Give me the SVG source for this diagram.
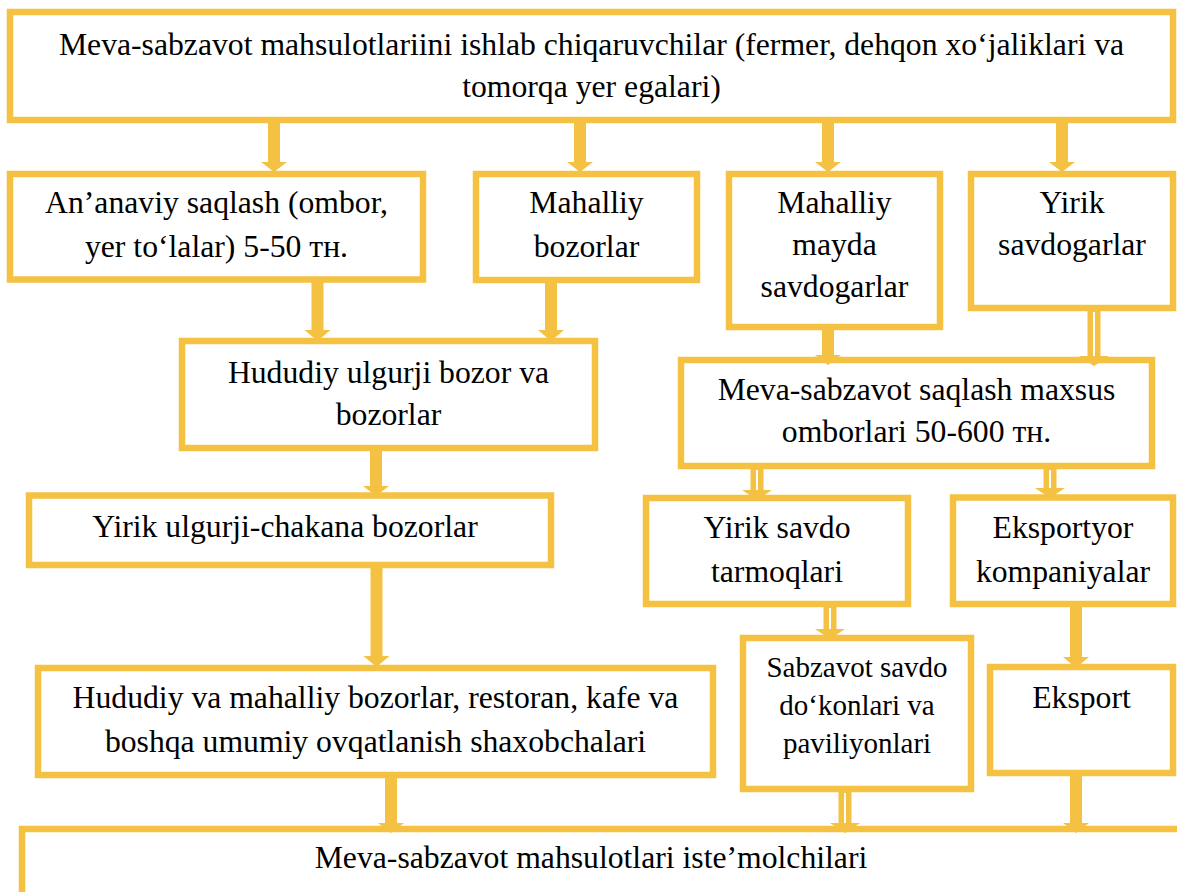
<svg xmlns="http://www.w3.org/2000/svg" width="1177" height="892" viewBox="0 0 1177 892">
<style>
.box{fill:#ffffff;stroke:#F5C142;stroke-width:6.5}
.t{font-family:'Liberation Serif','DejaVu Serif',serif;font-size:31.7px;fill:#000000;text-anchor:middle}
.ts{font-family:'Liberation Serif','DejaVu Serif',serif;font-size:29px;fill:#000000;text-anchor:middle}
.arr{fill:#F5C142}
.stripe{stroke:#ffffff;stroke-width:2;fill:none}
</style>
<rect width="1177" height="892" fill="#ffffff"/>
<g id="n-top"><rect class="box" x="10" y="12" width="1163" height="108"/>
<text class="t" x="591.5" y="55">Meva-sabzavot mahsulotlariini ishlab chiqaruvchilar (fermer, dehqon xo‘jaliklari va</text>
<text class="t" x="591.5" y="97">tomorqa yer egalari)</text></g>
<g id="n-ananaviy"><rect class="box" x="10" y="174" width="413" height="105.5"/>
<text class="t" x="216.5" y="213">An’anaviy saqlash (ombor,</text>
<text class="t" x="216.5" y="257">yer to‘lalar) 5-50 тн.</text></g>
<g id="n-mahalliy-bozor"><rect class="box" x="476" y="174" width="221" height="106"/>
<text class="t" x="586.5" y="213">Mahalliy</text>
<text class="t" x="586.5" y="257">bozorlar</text></g>
<g id="n-mayda"><rect class="box" x="729" y="174" width="211" height="153"/>
<text class="t" x="834.5" y="213">Mahalliy</text>
<text class="t" x="834.5" y="255">mayda</text>
<text class="t" x="834.5" y="297">savdogarlar</text></g>
<g id="n-yirik-savdogar"><rect class="box" x="971" y="174" width="202" height="134"/>
<text class="t" x="1072" y="213">Yirik</text>
<text class="t" x="1072" y="255">savdogarlar</text></g>
<g id="n-hududiy-ulgurji"><rect class="box" x="182" y="341" width="413" height="107"/>
<text class="t" x="388.5" y="383">Hududiy ulgurji bozor va</text>
<text class="t" x="388.5" y="425">bozorlar</text></g>
<g id="n-omborlar"><rect class="box" x="681" y="360" width="471" height="106"/>
<text class="t" x="916.5" y="400">Meva-sabzavot saqlash maxsus</text>
<text class="t" x="916.5" y="442">omborlari 50-600 тн.</text></g>
<g id="n-yirik-ulgurji"><rect class="box" x="29" y="495.5" width="522" height="69.5"/>
<text class="t" x="285" y="537">Yirik ulgurji-chakana bozorlar</text></g>
<g id="n-yirik-savdo"><rect class="box" x="646" y="498" width="262" height="106"/>
<text class="t" x="777" y="538">Yirik savdo</text>
<text class="t" x="777" y="582">tarmoqlari</text></g>
<g id="n-eksportyor"><rect class="box" x="953" y="497.5" width="220" height="106.5"/>
<text class="t" x="1063" y="538">Eksportyor</text>
<text class="t" x="1063" y="582">kompaniyalar</text></g>
<g id="n-hududiy-mahalliy"><rect class="box" x="38" y="668" width="675" height="107"/>
<text class="t" x="375.5" y="708">Hududiy va mahalliy bozorlar, restoran, kafe va</text>
<text class="t" x="375.5" y="752">boshqa umumiy ovqatlanish shaxobchalari</text></g>
<g id="n-sabzavot"><rect class="box" x="743" y="638" width="228" height="151"/>
<text class="ts" x="857" y="677">Sabzavot savdo</text>
<text class="ts" x="857" y="715">do‘konlari va</text>
<text class="ts" x="857" y="753">paviliyonlari</text></g>
<g id="n-eksport"><rect class="box" x="990" y="667" width="183" height="106"/>
<text class="t" x="1081.5" y="708">Eksport</text></g>
<g id="n-istemolchi"><rect class="box" x="22" y="829" width="1200" height="100"/>
<text class="t" x="591" y="868">Meva-sabzavot mahsulotlari iste’molchilari</text></g>
<g id="connectors">
<polygon class="arr" points="268,123 280,123 280,162 287,162 274,172 261,162 268,162"/>
<polygon class="arr" points="574,123 586,123 586,162 593,162 580,172 567,162 574,162"/>
<polygon class="arr" points="822,123 834,123 834,162 841,162 828,172 815,162 822,162"/>
<polygon class="arr" points="1056,123 1068,123 1068,162 1075,162 1062,172 1049,162 1056,162"/>
<polygon class="arr" points="311.5,282 323.5,282 323.5,330 330.5,330 317.5,341 304.5,330 311.5,330"/>
<polygon class="arr" points="545,283 557,283 557,330 564,330 551,341 538,330 545,330"/>
<polygon class="arr" points="822,329 834,329 834,355 841,355 828,365 815,355 822,355"/>
<polygon class="arr" points="370,451 382,451 382,486 389,486 376,496 363,486 370,486"/>
<polygon class="arr" points="370.5,567 382.5,567 382.5,656 389.5,656 376.5,667 363.5,656 370.5,656"/>
<polygon class="arr" points="385,777 397,777 397,823 404,823 391,833 378,823 385,823"/>
<polygon class="arr" points="1070,606 1082,606 1082,657 1089,657 1076,668 1063,657 1070,657"/>
<polygon class="arr" points="1070,775 1082,775 1082,823 1089,823 1076,833 1063,823 1070,823"/>
<polygon class="arr" points="1087.5,310 1100.5,310 1100.5,356 1109,356 1094,366 1079,356 1087.5,356"/>
<line class="stripe" x1="1094" y1="312" x2="1094" y2="356"/>
<polygon class="arr" points="750.5,468 763.5,468 763.5,490 772,490 757,500 742,490 750.5,490"/>
<line class="stripe" x1="757" y1="470" x2="757" y2="490"/>
<polygon class="arr" points="1043.5,468 1056.5,468 1056.5,488 1065,488 1050,498 1035,488 1043.5,488"/>
<line class="stripe" x1="1050" y1="470" x2="1050" y2="488"/>
<polygon class="arr" points="823.5,606 836.5,606 836.5,629 845,629 830,639 815,629 823.5,629"/>
<line class="stripe" x1="830" y1="608" x2="830" y2="629"/>
<polygon class="arr" points="838.5,791 851.5,791 851.5,823 860,823 845,833 830,823 838.5,823"/>
<line class="stripe" x1="845" y1="793" x2="845" y2="823"/>
</g>
</svg>
